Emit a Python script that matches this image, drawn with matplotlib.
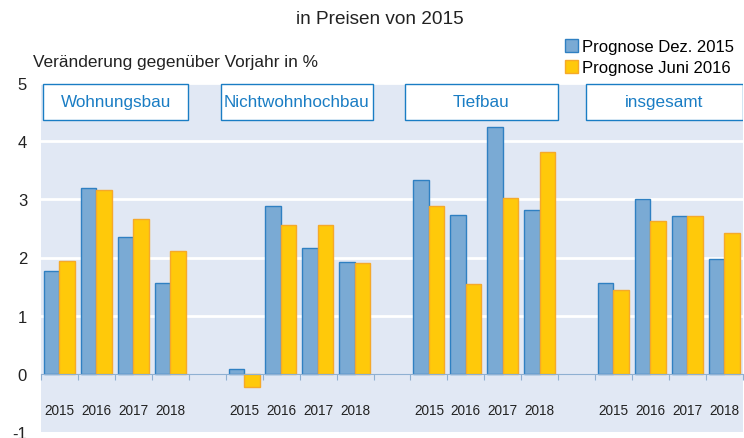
import matplotlib
matplotlib.use("Agg")
import matplotlib.pyplot as plt
from matplotlib.patches import Patch, Rectangle
import numpy as np

plt.rcParams['font.family'] = ['Liberation Sans', 'DejaVu Sans']

# DATA
groups = ['Wohnungsbau', 'Nichtwohnhochbau', 'Tiefbau', 'insgesamt']
years = ['2015', '2016', '2017', '2018']
dez_2015 = [[1.77, 3.19, 2.36, 1.57],
            [0.09, 2.89, 2.17, 1.93],
            [3.33, 2.73, 4.24, 2.82],
            [1.57, 3.00, 2.72, 1.97]]
juni_2016 = [[1.94, 3.16, 2.67, 2.11],
             [-0.23, 2.56, 2.56, 1.90],
             [2.89, 1.54, 3.03, 3.81],
             [1.44, 2.62, 2.72, 2.42]]
series_labels = ['Prognose Dez. 2015', 'Prognose Juni 2016']

# STYLE
bg = '#e1e8f4'
blue_face, blue_edge = '#7aaad4', '#2f80c2'
yel_face, yel_edge = '#ffc90a', '#f5a92a'
txt_blue = '#1a7dc4'
box_left_shift = [0.05, -0.14, -0.16, -0.24]   # group boxes are not exactly slot-aligned

fig = plt.figure(figsize=(7.44, 4.39), dpi=100)
W, H = 744, 439
ax = fig.add_axes([41 / W, (H - 433) / H, (743 - 41) / W, (433 - 84) / H])
ax.set_facecolor(bg)

n_slots = len(groups) * len(years) + len(groups) - 1
bw = 0.42

for g, name in enumerate(groups):
    start = g * (len(years) + 1)
    for k, yr in enumerate(years):
        s = start + k
        ax.bar(s + 0.285, dez_2015[g][k], width=bw, color=blue_face,
               edgecolor=blue_edge, linewidth=1.0, zorder=3)
        ax.bar(s + 0.705, juni_2016[g][k], width=bw, color=yel_face,
               edgecolor=yel_edge, linewidth=1.0, zorder=3)
        ax.text(s + 0.5, -0.63, yr, ha='center', va='center', fontsize=9.8,
                color='#222222')
    # group label box
    x0 = start + box_left_shift[g]
    x1 = start + len(years) - 0.01
    box = Rectangle((x0, 4.36), x1 - x0, 0.63,
                    facecolor='white', edgecolor=txt_blue, linewidth=1.0,
                    zorder=4)
    ax.add_patch(box)
    ax.text((x0 + x1) / 2, 4.68, name, ha='center', va='center',
            fontsize=12.3, color=txt_blue, zorder=5)

ax.set_xlim(0, n_slots)
ax.set_ylim(-1, 5)
ax.set_yticks(range(-1, 6))
ax.set_yticklabels([str(v) for v in range(-1, 6)], fontsize=12, color='#222222')
ax.tick_params(axis='y', length=0, pad=10)
for v in range(1, 6):
    ax.axhline(v, color='white', linewidth=2.0, zorder=1)

for side in ['top', 'right', 'left']:
    ax.spines[side].set_visible(False)
ax.spines['bottom'].set_position(('data', 0))
ax.spines['bottom'].set_color('#8fb0d2')
ax.spines['bottom'].set_zorder(4)
ax.set_xticks(np.arange(0, n_slots + 1))
ax.set_xticklabels([])
ax.tick_params(axis='x', direction='out', length=4, color='#8fb0d2')

fig.text(380 / W, 1 - 20 / H, 'in Preisen von 2015', ha='center', va='center',
         fontsize=13.7, color='#222222')
fig.text(33 / W, 1 - 63 / H, 'Veränderung gegenüber Vorjahr in %', ha='left',
         va='center', fontsize=12.4, color='#222222')

handles = [Patch(facecolor=blue_face, edgecolor=blue_edge),
           Patch(facecolor=yel_face, edgecolor=yel_edge)]
fig.legend(handles, series_labels, loc='upper right',
           bbox_to_anchor=(749 / W, 1 - 25 / H), frameon=False, fontsize=12.0,
           handlelength=0.75, handleheight=0.8, handletextpad=0.25,
           labelspacing=0.35)

fig.savefig('out.png', dpi=100)
